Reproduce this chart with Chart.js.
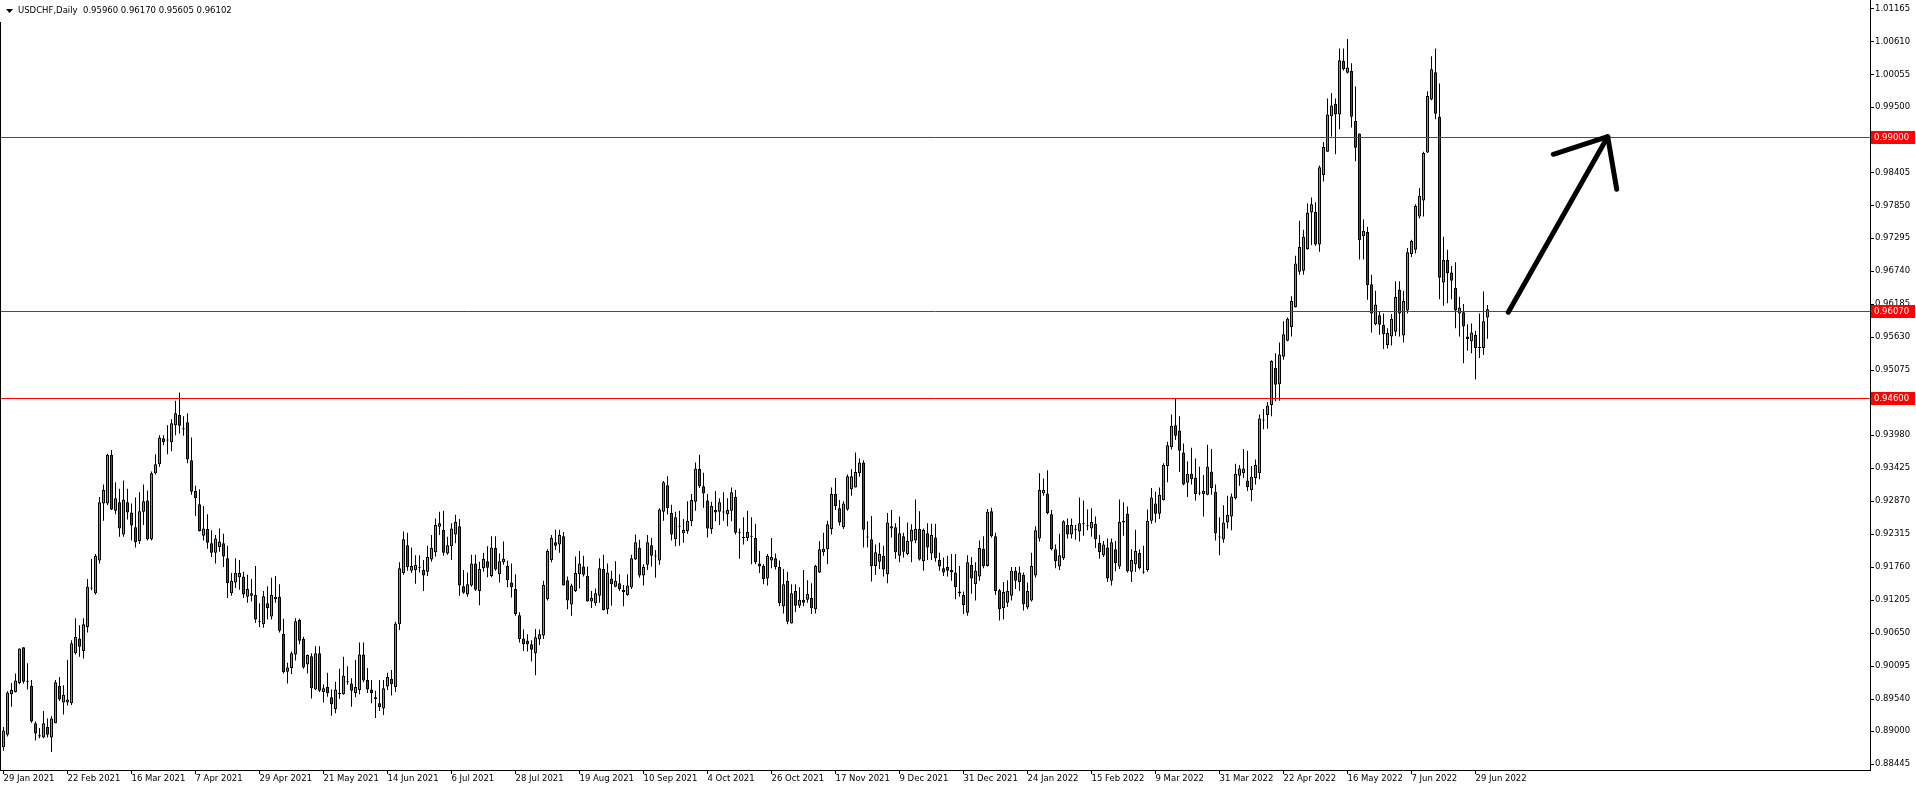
<!DOCTYPE html>
<html>
<head>
<meta charset="utf-8">
<script src="https://cdn.jsdelivr.net/npm/chart.js@4/dist/chart.umd.min.js"></script>
<style>
html,body{margin:0;padding:0;background:#fff;overflow:hidden}
#wrap{position:relative;width:1916px;height:791px;background:#fff}
canvas{display:block}
</style>
</head>
<body>
<div id="wrap"><canvas id="c" width="1916" height="791"></canvas></div>
<script>
// ---------- chart text ----------
const chartTitle = 'USDCHF,Daily';
const lastQuote = ['0.95960', '0.96170', '0.95605', '0.96102'];

// ---------- x axis: one label every 16 daily bars ----------
const barsPerLabel = 16;
const dateLabels = ['29 Jan 2021','22 Feb 2021','16 Mar 2021','7 Apr 2021','29 Apr 2021','21 May 2021',
  '14 Jun 2021','6 Jul 2021','28 Jul 2021','19 Aug 2021','10 Sep 2021','4 Oct 2021','26 Oct 2021',
  '17 Nov 2021','9 Dec 2021','31 Dec 2021','24 Jan 2022','15 Feb 2022','9 Mar 2022','31 Mar 2022',
  '22 Apr 2022','16 May 2022','7 Jun 2022','29 Jun 2022'];
const emptyBarsRight = 95;

// ---------- y axis tick values ----------
const priceTicks = [1.01165,1.00610,1.00055,0.99500,0.98945,0.98405,0.97850,0.97295,0.96740,0.96185,
  0.95630,0.95075,0.94520,0.93980,0.93425,0.92870,0.92315,0.91760,0.91205,0.90650,0.90095,0.89540,
  0.89000,0.88445];
const priceMin = 0.88345;
const priceMax = 1.01306;

// ---------- horizontal levels ----------
const levelPrices = [0.99000, 0.96070, 0.94600];
const levelTexts = ['0.99000', '0.96070', '0.94600'];

// ---------- hand-drawn arrow (bar index, price) ----------
const arrowShaft = [[376.2, 0.96050], [401.05, 0.99005]];
const arrowHead = [[387.45, 0.98709], [401.05, 0.99005], [403.3, 0.98120]];

// ---------- daily OHLC ----------
const opens = [
0.8873,0.8894,0.8962,0.8966,0.8981,0.9041,0.8983,0.8976,0.8913,0.8891,0.8889,0.8907,0.8889,0.8913,0.8976,0.8948,
0.8948,0.8947,0.9031,0.9056,0.9035,0.9075,0.9140,0.9132,0.9187,0.9283,0.9283,0.9365,0.9271,0.9285,0.9231,0.9285,
0.9268,0.9243,0.9220,0.9269,0.9288,0.9223,0.9334,0.9349,0.9393,0.9390,0.9386,0.9415,0.9432,0.9408,0.9420,0.9356,
0.9304,0.9282,0.9229,0.9240,0.9216,0.9200,0.9210,0.9216,0.9191,0.9132,0.9150,0.9159,0.9160,0.9126,0.9128,0.9129,
0.9085,0.9080,0.9115,0.9093,0.9122,0.9126,0.9064,0.9000,0.9006,0.9029,0.9087,0.9055,0.9012,0.9026,0.8970,0.9031,
0.8966,0.8974,0.8957,0.8937,0.8962,0.8962,0.8982,0.8980,0.8964,0.8969,0.9029,0.8986,0.8970,0.8957,0.8947,0.8938,
0.8975,0.8988,0.8974,0.9080,0.9166,0.9213,0.9170,0.9171,0.9175,0.9171,0.9168,0.9189,0.9201,0.9244,0.9239,0.9199,
0.9211,0.9231,0.9245,0.9144,0.9130,0.9145,0.9182,0.9136,0.9174,0.9186,0.9161,0.9208,0.9164,0.9184,0.9178,0.9150,
0.9139,0.9095,0.9056,0.9052,0.9046,0.9031,0.9054,0.9061,0.9122,0.9188,0.9218,0.9214,0.9228,0.9154,0.9113,0.9136,
0.9164,0.9177,0.9161,0.9118,0.9115,0.9128,0.9173,0.9105,0.9157,0.9143,0.9149,0.9138,0.9129,0.9142,0.9189,0.9208,
0.9162,0.9180,0.9213,0.9195,0.9187,0.9269,0.9314,0.9267,0.9223,0.9244,0.9233,0.9237,0.9253,0.9286,0.9341,0.9312,
0.9288,0.9240,0.9272,0.9269,0.9268,0.9265,0.9271,0.9294,0.9234,0.9225,0.9225,0.9227,0.9225,0.9182,0.9178,0.9157,
0.9187,0.9191,0.9176,0.9110,0.9153,0.9081,0.9136,0.9111,0.9121,0.9121,0.9124,0.9105,0.9167,0.9201,0.9206,0.9240,
0.9299,0.9275,0.9243,0.9273,0.9307,0.9310,0.9334,0.9352,0.9226,0.9223,0.9178,0.9185,0.9195,0.9164,0.9241,0.9243,
0.9195,0.9228,0.9198,0.9219,0.9221,0.9240,0.9186,0.9233,0.9199,0.9226,0.9188,0.9174,0.9176,0.9171,0.9167,0.9135,
0.9129,0.9099,0.9180,0.9147,0.9160,0.9207,0.9178,0.9270,0.9228,0.9137,0.9107,0.9116,0.9128,0.9170,0.9151,0.9163,
0.9108,0.9120,0.9162,0.9224,0.9300,0.9300,0.9265,0.9206,0.9177,0.9191,0.9247,0.9231,0.9240,0.9236,0.9249,0.9245,
0.9241,0.9249,0.9217,0.9196,0.9209,0.9153,0.9206,0.9177,0.9251,0.9266,0.9168,0.9181,0.9200,0.9167,0.9171,0.9254,
0.9283,0.9266,0.9289,0.9346,0.9378,0.9415,0.9406,0.9369,0.9318,0.9333,0.9327,0.9300,0.9299,0.9298,0.9337,0.9303,
0.9226,0.9223,0.9251,0.9261,0.9292,0.9330,0.9334,0.9322,0.9306,0.9326,0.9334,0.9423,0.9432,0.9449,0.9511,0.9484,
0.9530,0.9557,0.9580,0.9614,0.9673,0.9675,0.9711,0.9773,0.9774,0.9719,0.9836,0.9875,0.9935,0.9956,0.9938,1.0028,
1.0008,1.0011,0.9927,0.9906,0.9733,0.9740,0.9652,0.9585,0.9600,0.9584,0.9550,0.9564,0.9572,0.9643,0.9566,0.9608,
0.9703,0.9710,0.9766,0.9793,0.9874,0.9963,1.0009,0.9934,0.9655,0.9693,0.9672,0.9646,0.9603,0.9605,0.9564,0.9556,
0.9567,0.9546,0.9545,0.95960];
const highs = [
0.8907,0.8967,0.8981,0.8997,0.9039,0.9041,0.9014,0.8986,0.8916,0.8905,0.8934,0.8921,0.8925,0.8986,0.8991,0.8977,
0.9020,0.9053,0.9090,0.9078,0.9090,0.9156,0.9190,0.9198,0.9294,0.9315,0.9367,0.9373,0.9319,0.9308,0.9322,0.9308,
0.9283,0.9293,0.9302,0.9315,0.9305,0.9337,0.9366,0.9398,0.9398,0.9415,0.9425,0.9456,0.9470,0.9430,0.9435,0.9394,
0.9313,0.9307,0.9279,0.9265,0.9238,0.9230,0.9241,0.9232,0.9212,0.9166,0.9191,0.9188,0.9168,0.9163,0.9156,0.9178,
0.9115,0.9136,0.9144,0.9158,0.9161,0.9147,0.9089,0.9015,0.9034,0.9090,0.9089,0.9059,0.9029,0.9031,0.9043,0.9043,
0.8979,0.8998,0.8970,0.8983,0.9005,0.9025,0.9009,0.8989,0.9020,0.9049,0.9049,0.9006,0.8986,0.8968,0.8986,0.8986,
0.8998,0.9003,0.9084,0.9184,0.9236,0.9234,0.9209,0.9196,0.9196,0.9188,0.9212,0.9230,0.9258,0.9269,0.9271,0.9227,
0.9250,0.9264,0.9257,0.9171,0.9167,0.9197,0.9197,0.9185,0.9200,0.9211,0.9228,0.9228,0.9199,0.9219,0.9187,0.9182,
0.9164,0.9100,0.9071,0.9063,0.9053,0.9072,0.9071,0.9153,0.9206,0.9230,0.9239,0.9239,0.9235,0.9160,0.9148,0.9194,
0.9203,0.9195,0.9177,0.9136,0.9140,0.9191,0.9197,0.9182,0.9170,0.9186,0.9164,0.9146,0.9164,0.9197,0.9231,0.9222,
0.9181,0.9230,0.9225,0.9205,0.9275,0.9321,0.9329,0.9281,0.9269,0.9271,0.9257,0.9287,0.9299,0.9352,0.9365,0.9335,
0.9299,0.9286,0.9304,0.9292,0.9302,0.9292,0.9310,0.9306,0.9241,0.9260,0.9271,0.9260,0.9249,0.9203,0.9181,0.9198,
0.9225,0.9199,0.9187,0.9173,0.9168,0.9147,0.9147,0.9142,0.9171,0.9154,0.9149,0.9180,0.9220,0.9234,0.9254,0.9310,
0.9326,0.9289,0.9287,0.9332,0.9341,0.9369,0.9359,0.9356,0.9253,0.9262,0.9214,0.9217,0.9212,0.9267,0.9272,0.9250,
0.9261,0.9234,0.9251,0.9248,0.9290,0.9270,0.9241,0.9250,0.9249,0.9249,0.9200,0.9192,0.9195,0.9198,0.9198,0.9178,
0.9135,0.9196,0.9193,0.9184,0.9221,0.9228,0.9274,0.9276,0.9234,0.9139,0.9151,0.9154,0.9176,0.9176,0.9177,0.9167,
0.9150,0.9200,0.9245,0.9334,0.9325,0.9339,0.9272,0.9214,0.9232,0.9255,0.9258,0.9258,0.9247,0.9293,0.9288,0.9273,
0.9275,0.9261,0.9230,0.9220,0.9224,0.9224,0.9220,0.9290,0.9285,0.9278,0.9206,0.9239,0.9206,0.9212,0.9273,0.9309,
0.9303,0.9310,0.9351,0.9387,0.9433,0.9460,0.9430,0.9384,0.9354,0.9377,0.9359,0.9345,0.9331,0.9382,0.9375,0.9315,
0.9260,0.9280,0.9296,0.9300,0.9350,0.9348,0.9375,0.9372,0.9346,0.9357,0.9433,0.9442,0.9454,0.9524,0.9536,0.9554,
0.9590,0.9596,0.9632,0.9700,0.9759,0.9744,0.9788,0.9798,0.9790,0.9852,0.9891,0.9965,0.9974,0.9965,1.0049,1.0049,
1.0065,1.0024,0.9985,0.9906,0.9761,0.9749,0.9668,0.9641,0.9607,0.9603,0.9578,0.9602,0.9657,0.9657,0.9641,0.9713,
0.9727,0.9787,0.9814,0.9875,0.9977,1.0036,1.0049,0.9990,0.9732,0.9710,0.9683,0.9689,0.9631,0.9619,0.9585,0.9586,
0.9574,0.9603,0.9640,0.96170];
const lows = [
0.8867,0.8891,0.8941,0.8965,0.8979,0.8980,0.8970,0.8914,0.8884,0.8888,0.8888,0.8889,0.8865,0.8913,0.8951,0.8928,
0.8943,0.8944,0.9029,0.9025,0.9022,0.9066,0.9137,0.9130,0.9182,0.9254,0.9280,0.9272,0.9265,0.9227,0.9227,0.9256,
0.9221,0.9209,0.9215,0.9247,0.9221,0.9221,0.9332,0.9345,0.9381,0.9366,0.9371,0.9398,0.9401,0.9397,0.9351,0.9298,
0.9262,0.9236,0.9221,0.9207,0.9193,0.9182,0.9202,0.9176,0.9124,0.9128,0.9141,0.9138,0.9124,0.9116,0.9118,0.9082,
0.9075,0.9074,0.9088,0.9088,0.9116,0.9066,0.8997,0.8980,0.8996,0.9019,0.9046,0.9005,0.8997,0.8955,0.8969,0.8966,
0.8948,0.8958,0.8926,0.8930,0.8954,0.8961,0.8978,0.8941,0.8957,0.8962,0.8982,0.8964,0.8947,0.8922,0.8934,0.8927,
0.8969,0.8960,0.8966,0.9070,0.9163,0.9170,0.9166,0.9148,0.9167,0.9136,0.9161,0.9185,0.9194,0.9230,0.9195,0.9197,
0.9188,0.9216,0.9128,0.9131,0.9126,0.9143,0.9136,0.9112,0.9168,0.9159,0.9159,0.9170,0.9150,0.9180,0.9142,0.9125,
0.9094,0.9049,0.9035,0.9034,0.9017,0.8994,0.9045,0.9055,0.9120,0.9184,0.9205,0.9200,0.9145,0.9105,0.9094,0.9134,
0.9140,0.9160,0.9118,0.9107,0.9111,0.9116,0.9103,0.9097,0.9111,0.9142,0.9136,0.9110,0.9128,0.9139,0.9188,0.9158,
0.9145,0.9171,0.9177,0.9158,0.9180,0.9254,0.9265,0.9221,0.9211,0.9212,0.9217,0.9232,0.9245,0.9271,0.9309,0.9276,
0.9226,0.9232,0.9253,0.9247,0.9254,0.9245,0.9253,0.9231,0.9190,0.9214,0.9220,0.9181,0.9181,0.9166,0.9147,0.9145,
0.9174,0.9172,0.9110,0.9098,0.9080,0.9081,0.9100,0.9107,0.9110,0.9116,0.9097,0.9098,0.9166,0.9195,0.9181,0.9231,
0.9272,0.9246,0.9240,0.9271,0.9296,0.9310,0.9328,0.9209,0.9209,0.9152,0.9163,0.9173,0.9160,0.9149,0.9226,0.9190,
0.9184,0.9192,0.9196,0.9184,0.9216,0.9187,0.9170,0.9188,0.9188,0.9185,0.9170,0.9161,0.9160,0.9153,0.9122,0.9126,
0.9097,0.9094,0.9131,0.9120,0.9153,0.9174,0.9177,0.9226,0.9129,0.9086,0.9088,0.9109,0.9120,0.9139,0.9136,0.9103,
0.9105,0.9118,0.9158,0.9219,0.9296,0.9265,0.9204,0.9174,0.9171,0.9188,0.9224,0.9224,0.9222,0.9219,0.9229,0.9238,
0.9227,0.9208,0.9190,0.9193,0.9151,0.9145,0.9169,0.9173,0.9229,0.9167,0.9151,0.9168,0.9172,0.9165,0.9168,0.9249,
0.9251,0.9257,0.9288,0.9319,0.9374,0.9390,0.9336,0.9314,0.9294,0.9315,0.9288,0.9297,0.9261,0.9297,0.9298,0.9221,
0.9196,0.9217,0.9241,0.9238,0.9290,0.9313,0.9326,0.9304,0.9287,0.9315,0.9324,0.9408,0.9409,0.9430,0.9455,0.9456,
0.9525,0.9556,0.9564,0.9613,0.9668,0.9668,0.9710,0.9718,0.9717,0.9707,0.9825,0.9875,0.9901,0.9871,0.9913,1.0012,
1.0007,0.9916,0.9859,0.9694,0.9694,0.9626,0.9571,0.9583,0.9567,0.9543,0.9544,0.9549,0.9565,0.9564,0.9554,0.9603,
0.9698,0.9704,0.9763,0.9766,0.9873,0.9962,0.9930,0.9627,0.9616,0.9620,0.9627,0.9578,0.9564,0.9519,0.9540,0.9536,
0.9492,0.9528,0.9533,0.95605];
const closes = [
0.8901,0.8965,0.8969,0.8985,0.9039,0.8983,0.8984,0.8916,0.8896,0.8893,0.8913,0.8894,0.8921,0.8982,0.8953,0.8961,
0.8953,0.9048,0.9059,0.9042,0.9080,0.9143,0.9141,0.9195,0.9285,0.9306,0.9365,0.9273,0.9292,0.9241,0.9290,0.9268,
0.9246,0.9218,0.9270,0.9287,0.9223,0.9334,0.9349,0.9394,0.9386,0.9389,0.9418,0.9435,0.9414,0.9408,0.9357,0.9303,
0.9292,0.9237,0.9241,0.9217,0.9200,0.9224,0.9219,0.9194,0.9149,0.9153,0.9166,0.9166,0.9130,0.9139,0.9132,0.9088,
0.9084,0.9127,0.9107,0.9129,0.9126,0.9069,0.8999,0.9007,0.9031,0.9085,0.9052,0.9007,0.9028,0.8972,0.9031,0.8968,
0.8972,0.8964,0.8945,0.8970,0.8964,0.8993,0.8984,0.8968,0.8974,0.9029,0.8985,0.8970,0.8964,0.8954,0.8940,0.8972,
0.8991,0.8979,0.9081,0.9174,0.9223,0.9176,0.9178,0.9180,0.9176,0.9162,0.9193,0.9208,0.9247,0.9250,0.9200,0.9213,
0.9241,0.9252,0.9145,0.9133,0.9147,0.9182,0.9138,0.9173,0.9190,0.9175,0.9209,0.9172,0.9186,0.9190,0.9154,0.9142,
0.9097,0.9055,0.9046,0.9046,0.9037,0.9058,0.9063,0.9146,0.9203,0.9225,0.9212,0.9230,0.9145,0.9120,0.9145,0.9166,
0.9182,0.9163,0.9118,0.9124,0.9132,0.9174,0.9104,0.9167,0.9147,0.9153,0.9139,0.9134,0.9145,0.9191,0.9218,0.9162,
0.9176,0.9218,0.9195,0.9194,0.9273,0.9319,0.9275,0.9231,0.9260,0.9245,0.9239,0.9254,0.9289,0.9342,0.9312,0.9300,
0.9241,0.9279,0.9268,0.9285,0.9269,0.9272,0.9302,0.9234,0.9233,0.9226,0.9235,0.9228,0.9184,0.9177,0.9156,0.9195,
0.9193,0.9176,0.9115,0.9147,0.9084,0.9132,0.9111,0.9121,0.9116,0.9131,0.9107,0.9178,0.9206,0.9207,0.9248,0.9299,
0.9279,0.9251,0.9283,0.9329,0.9329,0.9336,0.9352,0.9239,0.9227,0.9178,0.9201,0.9198,0.9172,0.9251,0.9245,0.9201,
0.9233,0.9202,0.9220,0.9239,0.9240,0.9189,0.9239,0.9209,0.9230,0.9191,0.9177,0.9167,0.9170,0.9167,0.9142,0.9132,
0.9112,0.9184,0.9157,0.9170,0.9208,0.9178,0.9269,0.9228,0.9136,0.9105,0.9134,0.9136,0.9170,0.9153,0.9167,0.9114,
0.9136,0.9178,0.9238,0.9306,0.9306,0.9267,0.9206,0.9186,0.9196,0.9253,0.9231,0.9247,0.9239,0.9250,0.9248,0.9246,
0.9252,0.9223,0.9201,0.9214,0.9157,0.9218,0.9183,0.9252,0.9254,0.9169,0.9188,0.9203,0.9174,0.9168,0.9254,0.9293,
0.9266,0.9298,0.9348,0.9381,0.9414,0.9397,0.9372,0.9315,0.9333,0.9324,0.9299,0.9301,0.9304,0.9345,0.9309,0.9233,
0.9227,0.9251,0.9264,0.9295,0.9333,0.9342,0.9342,0.9311,0.9328,0.9348,0.9426,0.9424,0.9448,0.9523,0.9483,0.9534,
0.9568,0.9594,0.9624,0.9687,0.9715,0.9732,0.9773,0.9787,0.9719,0.9849,0.9883,0.9938,0.9953,0.9938,1.0029,1.0014,
1.0017,0.9934,0.9882,0.9726,0.9742,0.9651,0.9603,0.9618,0.9584,0.9568,0.9570,0.9594,0.9631,0.9603,0.9624,0.9706,
0.9725,0.9784,0.9801,0.9873,0.9969,1.0014,0.9939,0.9663,0.9693,0.9671,0.9658,0.9608,0.9613,0.9581,0.9560,0.9571,
0.9545,0.9545,0.9590,0.96102];

// ---------- styles ----------
const BULL = '#32CD32';
const BEAR = '#FF0000';
const INK = '#000000';
const LEVEL = '#FF0000';
const FONT = '"DejaVu Sans", sans-serif';
const FONT_SIZE = 8.5;

const nBars = closes.length;
const wickData = highs.map((h, i) => ({ x: i, y: [lows[i], h] }));
const bodyData = opens.map((o, i) => ({ x: i, y: [o, closes[i]] }));
const bodyColors = opens.map((o, i) => (closes[i] >= o ? BULL : BEAR));

const overlay = {
  id: 'overlay',
  afterDatasetsDraw(chart) {
    const { ctx, chartArea: a, scales: { x, y } } = chart;
    ctx.save();
    // horizontal levels
    ctx.strokeStyle = LEVEL;
    ctx.lineWidth = 1;
    levelPrices.forEach(v => {
      const py = Math.round(y.getPixelForValue(v)) + 0.5;
      ctx.beginPath();
      ctx.moveTo(a.left + 1, py);
      ctx.lineTo(a.right, py);
      ctx.stroke();
    });
    // arrow
    ctx.strokeStyle = INK;
    ctx.lineWidth = 5;
    ctx.lineCap = 'round';
    ctx.lineJoin = 'round';
    [arrowShaft, arrowHead].forEach(path => {
      ctx.beginPath();
      path.forEach(([bi, p], k) => {
        const px = x.getPixelForValue(bi), py = y.getPixelForValue(p);
        if (k === 0) ctx.moveTo(px, py); else ctx.lineTo(px, py);
      });
      ctx.stroke();
    });
    ctx.restore();
  },
  afterDraw(chart) {
    const { ctx, chartArea: a, scales: { y } } = chart;
    ctx.save();
    // left frame line
    ctx.fillStyle = INK;
    ctx.fillRect(0, 22, 1, a.bottom - 22);
    // level price tags on the axis
    ctx.font = FONT_SIZE + 'px ' + FONT;
    ctx.textBaseline = 'middle';
    ctx.textAlign = 'left';
    levelPrices.forEach((v, k) => {
      const py = Math.round(y.getPixelForValue(v));
      ctx.fillStyle = LEVEL;
      ctx.fillRect(a.right + 1, py - 6, 1916 - a.right - 2, 13);
      ctx.fillStyle = '#FFFFFF';
      ctx.fillText(levelTexts[k], a.right + 4, py + 0.5);
    });
    // title
    ctx.fillStyle = INK;
    ctx.beginPath();
    ctx.moveTo(6, 9); ctx.lineTo(13, 9); ctx.lineTo(9.5, 13); ctx.closePath();
    ctx.fill();
    ctx.fillText(chartTitle + '  ' + lastQuote.join(' '), 18, 11);
    ctx.restore();
  }
};

new Chart(document.getElementById('c'), {
  type: 'bar',
  data: {
    datasets: [
      { data: wickData, backgroundColor: INK, borderWidth: 0, barThickness: 1, maxBarThickness: 1,
        grouped: false, order: 2, inflateAmount: 0 },
      { data: bodyData, backgroundColor: bodyColors, borderColor: INK, borderWidth: 1, borderSkipped: false,
        barThickness: 3, maxBarThickness: 3, minBarLength: 1, grouped: false, order: 1, inflateAmount: 0 }
    ]
  },
  options: {
    responsive: false,
    animation: false,
    devicePixelRatio: 1,
    layout: { padding: 0, autoPadding: false },
    plugins: { legend: { display: false }, tooltip: { enabled: false } },
    scales: {
      x: {
        type: 'linear', bounds: 'data', offset: false,
        min: -0.875, max: nBars - 1 + emptyBarsRight + 0.625,
        grid: { display: true, offset: false, drawOnChartArea: false, drawTicks: true, tickLength: 4, color: INK, lineWidth: 1 },
        border: { display: true, color: INK, width: 1 },
        ticks: {
          autoSkip: false, maxRotation: 0, minRotation: 0, align: 'start', padding: 0,
          color: INK, font: { family: FONT, size: FONT_SIZE },
          callback: v => dateLabels[Math.round(v / barsPerLabel)] || ''
        },
        afterBuildTicks: s => { s.ticks = dateLabels.map((_, k) => ({ value: k * barsPerLabel })); },
        afterFit: s => { s.height = 21; s.paddingLeft = 0; s.paddingRight = 0; s.paddingTop = 0; s.paddingBottom = 0; }
      },
      y: {
        type: 'linear', position: 'right', bounds: 'data',
        min: priceMin, max: priceMax,
        grid: { display: true, drawOnChartArea: false, drawTicks: true, tickLength: 4, color: INK, lineWidth: 1 },
        border: { display: true, color: INK, width: 1 },
        ticks: {
          autoSkip: false, padding: 1, color: INK, crossAlign: 'near',
          font: { family: FONT, size: FONT_SIZE },
          callback: v => v.toFixed(5)
        },
        afterBuildTicks: s => { s.ticks = priceTicks.map(v => ({ value: v })); },
        afterFit: s => { s.width = 46; s.paddingLeft = 0; s.paddingRight = 0; s.paddingTop = 0; s.paddingBottom = 0; }
      }
    }
  },
  plugins: [overlay]
});
</script>
</body>
</html>
